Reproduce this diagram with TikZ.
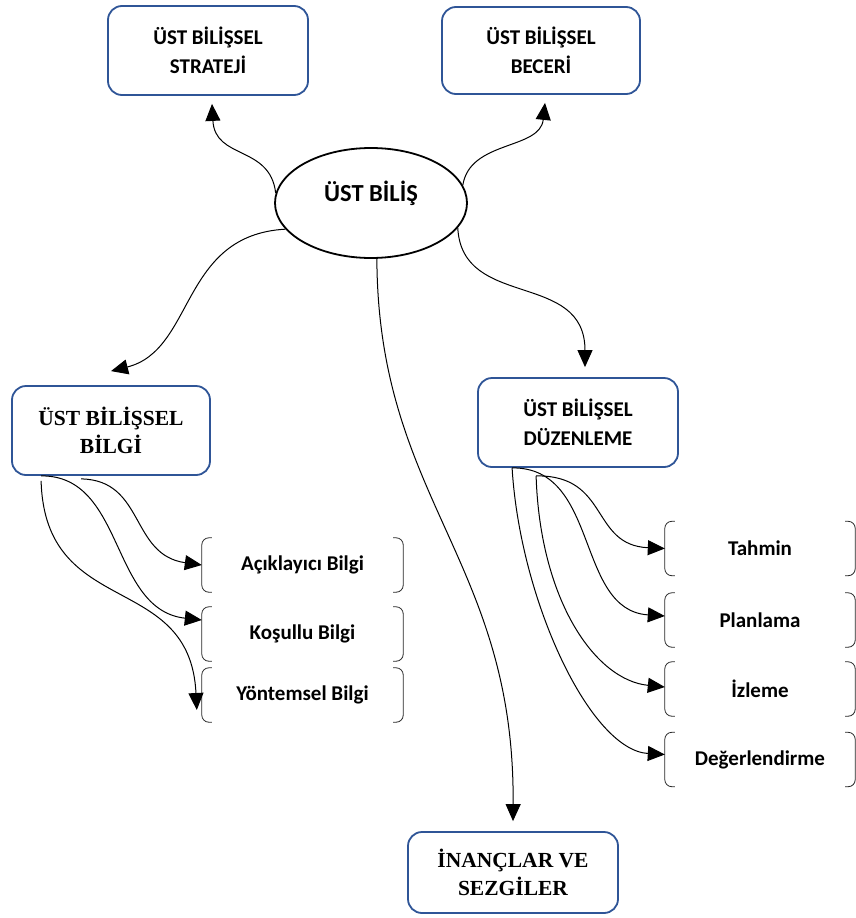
\documentclass[tikz,border=0pt]{standalone}
\usepackage{fontspec}
\setmainfont{Carlito}
\newfontfamily\timesfont{Liberation Serif}
\usetikzlibrary{arrows.meta,shapes.geometric}
\definecolor{boxblue}{RGB}{47,85,151}

\tikzset{
    mainbox/.style={draw=boxblue, line width=1.8pt, rounded corners=14pt, align=center,
        minimum width=200pt, minimum height=89pt, font=\bfseries\fontsize{21}{29}\selectfont},
    serifbox/.style={mainbox, font=\timesfont\bfseries\fontsize{21.5}{28}\selectfont},
    subbox/.style={minimum width=201pt, minimum height=54pt, font=\bfseries\fontsize{21}{25}\selectfont},
    bracket/.style={line width=0.8pt, draw=black!85, rounded corners=7pt},
    arr/.style={line width=1pt, -{Triangle[length=17pt,width=15pt]}},
}

\begin{document}
\begin{tikzpicture}[x=1pt,y=-1pt]
    \useasboundingbox (0,0) rectangle (856,918);

    % main nodes
    \node[ellipse, draw, line width=1.8pt, minimum width=192pt, minimum height=110pt,
        font=\bfseries\fontsize{24.5}{28}\selectfont] (ustbilis) at (371,203) {\raisebox{2pt}[0pt][0pt]{ÜST BİLİŞ}};
    \node[mainbox] (strateji) at (208,50.5) {ÜST BİLİŞSEL\\STRATEJİ};
    \node[mainbox, minimum width=198pt, minimum height=87pt] (beceri) at (541,50.5) {ÜST BİLİŞSEL\\BECERİ};
    \node[serifbox, minimum width=198pt] (bilgi) at (111,430.5) {ÜST BİLİŞSEL\\BİLGİ};
    \node[mainbox] (duzen) at (578,422.5) {ÜST BİLİŞSEL\\DÜZENLEME};
    \node[serifbox, minimum width=210pt, minimum height=81pt] (inanc) at (513,872.5) {İNANÇLAR VE\\SEZGİLER};

    % sub nodes (left)
    \node[subbox] (acik) at (302.5,565) {Açıklayıcı Bilgi};
    \node[subbox] (kosul) at (302.5,634) {Koşullu Bilgi};
    \node[subbox] (yontem) at (302.5,695) {Yöntemsel Bilgi};

    % sub nodes (right)
    \node[subbox, minimum width=190pt] (tahmin) at (760,548.5) {Tahmin};
    \node[subbox, minimum width=190pt] (plan) at (760,620) {Planlama};
    \node[subbox, minimum width=190pt] (izle) at (760,689) {İzleme};
    \node[subbox, minimum width=190pt] (deger) at (760,759.5) {Değerlendirme};

    % brackets round the sub nodes
    \foreach \n in {acik,kosul,yontem,tahmin,plan,izle,deger}{
        \draw[bracket] ([xshift=10pt]\n.north west) -- (\n.north west) -- (\n.south west) -- ([xshift=10pt]\n.south west);
        \draw[bracket] ([xshift=-10pt]\n.north east) -- (\n.north east) -- (\n.south east) -- ([xshift=-10pt]\n.south east);
    }

    % paths from ust bilis
    \draw[arr] (ustbilis.174) .. controls (270,145) and (215,160) .. ([xshift=4pt,yshift=-8pt]strateji.south); % -> strateji
    \draw[arr] (ustbilis.11) .. controls (470,140) and (540,150) .. ([xshift=4pt,yshift=-8pt]beceri.south); % -> beceri
    \draw[arr] (ustbilis.197) .. controls (180,235) and (195,350) .. ([yshift=14pt]bilgi.north); % -> bilgi
    \draw[arr] (ustbilis.344) .. controls (462,310) and (585,270) .. ([xshift=7pt,yshift=10pt]duzen.north); % -> duzenleme
    \draw[arr] (ustbilis.276) .. controls (378,500) and (515,560) .. ([yshift=10pt]inanc.north); % -> inanclar

    % paths from bilgi
    \draw[arr] ([xshift=70pt,yshift=-3pt]bilgi.south west) .. controls (145,480) and (130,555) .. (acik.west);
    \draw[arr] ([xshift=30pt]bilgi.south west) .. controls (125,475) and (110,610) .. ([yshift=14pt]kosul.west);
    \draw[arr] ([xshift=30pt,yshift=-5pt]bilgi.south west) .. controls (45,620) and (190,570) .. ([xshift=-5pt,yshift=-15pt]yontem.west);

    % paths from duzenleme
    \draw[arr] ([xshift=59pt,yshift=-8pt]duzen.south west) .. controls (610,475) and (590,545) .. (tahmin.west);
    \draw[arr] ([xshift=35pt]duzen.south west) .. controls (600,467) and (575,610) .. ([yshift=4pt]plan.west);
    \draw[arr] ([xshift=59pt,yshift=-8pt]duzen.south west) .. controls (540,600) and (595,680) .. ([yshift=2pt]izle.west);
    \draw[arr] ([xshift=35pt]duzen.south west) .. controls (520,600) and (590,750) .. ([yshift=5pt]deger.west);

\end{tikzpicture}
\end{document}
